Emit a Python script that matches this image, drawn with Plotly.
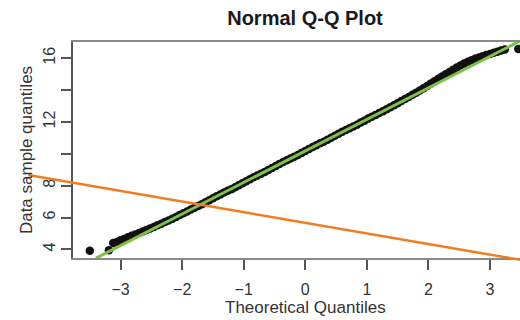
import plotly.graph_objects as go

# ---- data ----
theoretical = [
    -3.06, -3.00, -2.94, -2.88, -2.82, -2.76, -2.70, -2.64, -2.58, -2.52,
    -2.46, -2.40, -2.34, -2.28, -2.22, -2.16, -2.10, -2.04, -1.98, -1.92,
    -1.86, -1.80, -1.74, -1.68, -1.62, -1.56, -1.50, -1.44, -1.38, -1.32,
    -1.26, -1.20, -1.14, -1.08, -1.02, -0.96, -0.90, -0.84, -0.78, -0.72,
    -0.66, -0.60, -0.54, -0.48, -0.42, -0.36, -0.30, -0.24, -0.18, -0.12,
    -0.06, 0.00, 0.06, 0.12, 0.18, 0.24, 0.30, 0.36, 0.42, 0.48,
    0.54, 0.60, 0.66, 0.72, 0.78, 0.84, 0.90, 0.96, 1.02, 1.08,
    1.14, 1.20, 1.26, 1.32, 1.38, 1.44, 1.50, 1.56, 1.62, 1.68,
    1.74, 1.80, 1.86, 1.92, 1.98, 2.04, 2.10, 2.16, 2.22, 2.28,
    2.34, 2.40, 2.46, 2.52, 2.58, 2.64, 2.70, 2.76, 2.82, 2.88,
    2.94, 3.00, 3.06, 3.12, 3.18, 3.24,
]
sample = [
    4.47, 4.57, 4.66, 4.76, 4.85, 4.94, 5.03, 5.12, 5.22, 5.31,
    5.41, 5.51, 5.61, 5.72, 5.82, 5.93, 6.04, 6.16, 6.27, 6.38,
    6.50, 6.61, 6.72, 6.83, 6.96, 7.09, 7.21, 7.34, 7.45, 7.57,
    7.68, 7.78, 7.90, 8.03, 8.16, 8.28, 8.41, 8.53, 8.64, 8.75,
    8.86, 8.98, 9.11, 9.23, 9.36, 9.48, 9.59, 9.71, 9.81, 9.93,
    10.06, 10.18, 10.31, 10.43, 10.54, 10.66, 10.76, 10.88, 11.01, 11.13,
    11.26, 11.38, 11.49, 11.61, 11.71, 11.83, 11.96, 12.08, 12.21, 12.33,
    12.44, 12.56, 12.68, 12.80, 12.93, 13.05, 13.18, 13.31, 13.44, 13.57,
    13.71, 13.84, 13.98, 14.12, 14.26, 14.41, 14.56, 14.71, 14.86, 15.00,
    15.14, 15.28, 15.42, 15.55, 15.67, 15.78, 15.88, 15.97, 16.04, 16.12,
    16.20, 16.27, 16.34, 16.41, 16.48, 16.55,
]
tail_theoretical = [-3.50, -3.19, -3.12, 3.46]
tail_sample = [3.92, 3.95, 4.40, 16.58]

ref_line_x = [-3.40, 3.60]
ref_line_y = [3.45, 17.31]

overlay_x = [-4.50, 3.60]
overlay_y = [8.67, 3.27]

x_ticks = [-3, -2, -1, 0, 1, 2, 3]
y_ticks = [4, 6, 8, 10, 12, 14, 16]
y_tick_text = ["4", "6", "8", "", "12", "", "16"]

title_text = "Normal Q-Q Plot"
x_title = "Theoretical Quantiles"
y_title = "Data sample quantiles"

# ---- layout geometry ----
W, H = 520, 320
x_range = [-3.773, 3.487]
y_range = [3.46, 17.02]
x_dom = [73 / W, 1.0]
y_dom = [62 / H, 278 / H]


def full_range(r, dom):
    unit = (r[1] - r[0]) / (dom[1] - dom[0])
    return [r[0] - dom[0] * unit, r[1] + (1 - dom[1]) * unit]


FONT = "Liberation Sans, Arial, Helvetica, sans-serif"

fig = go.Figure()
fig.add_trace(go.Scatter(
    x=theoretical + tail_theoretical, y=sample + tail_sample,
    mode="markers", marker=dict(color="#111111", size=8.5),
    showlegend=False, hoverinfo="skip"))
fig.add_trace(go.Scatter(
    x=ref_line_x, y=ref_line_y, mode="lines",
    line=dict(color="#7cc24a", width=3), showlegend=False, hoverinfo="skip"))
fig.add_trace(go.Scatter(
    x=overlay_x, y=overlay_y, mode="lines", xaxis="x2", yaxis="y2",
    line=dict(color="#f07d22", width=2.5), showlegend=False, hoverinfo="skip"))

fig.update_layout(
    width=W, height=H,
    margin=dict(l=0, r=0, t=0, b=0),
    paper_bgcolor="white", plot_bgcolor="rgba(0,0,0,0)",
    font=dict(family=FONT, color="#333333"),
    title=dict(text="<b>" + title_text + "</b>", x=305 / W, xanchor="center",
               y=1 - 18 / H, yanchor="middle", yref="container",
               font=dict(size=20, color="#1a1a1a", family=FONT)),
    xaxis=dict(domain=x_dom, range=x_range, tickvals=x_ticks,
               ticks="outside", ticklen=10, tickwidth=1.5, tickcolor="#555555",
               showline=True, linecolor="#8a8a8a", linewidth=2, mirror=True,
               showgrid=False, zeroline=False,
               tickfont=dict(size=16, color="#333333"), ticklabelstandoff=6),
    yaxis=dict(domain=y_dom, range=y_range, tickvals=y_ticks, ticktext=y_tick_text,
               tickangle=-90, ticks="outside", ticklen=10, tickwidth=1.5,
               tickcolor="#555555", showline=True, linecolor="#555555", linewidth=2,
               showgrid=False, zeroline=False,
               tickfont=dict(size=16, color="#333333"),
               title=dict(text=y_title, font=dict(size=17, color="#333333"), standoff=4)),
    xaxis2=dict(domain=[0, 1], range=full_range(x_range, x_dom),
                visible=False, anchor="y2", showgrid=False, zeroline=False),
    yaxis2=dict(domain=[0, 1], range=full_range(y_range, y_dom),
                visible=False, anchor="x2", showgrid=False, zeroline=False),
    annotations=[dict(text=x_title, xref="paper", yref="paper", x=305 / W,
                      y=1 - 307 / H, xanchor="center", yanchor="middle",
                      showarrow=False, font=dict(size=17, color="#333333"))],
)

fig.write_html("out.html")
